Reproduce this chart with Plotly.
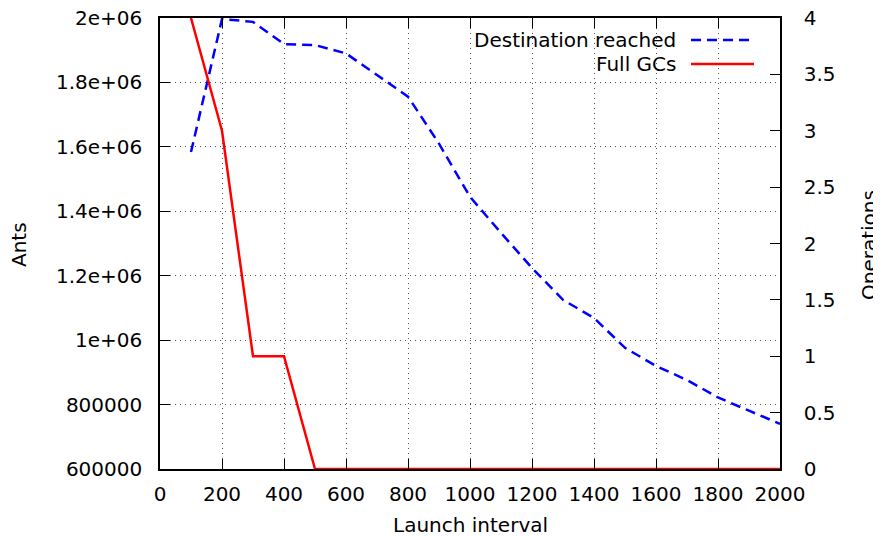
import plotly.graph_objects as go

launch_interval = [100, 200, 300, 400, 500, 600, 700, 800, 900, 1000,
                   1100, 1200, 1300, 1400, 1500, 1600, 1700, 1800, 1900, 2000]
destination_reached = [1584000, 1997000, 1988000, 1919000, 1916000, 1890000, 1823000,
                       1756000, 1610000, 1445000, 1333000, 1224000, 1125000, 1069000,
                       976000, 920000, 876000, 822000, 781000, 740000]
full_gcs = [4, 3, 1, 1, 0, 0, 0, 0, 0, 0, 0, 0, 0, 0, 0, 0, 0, 0, 0, 0]

left_tickvals = [600000, 800000, 1000000, 1200000, 1400000, 1600000, 1800000, 2000000]
left_ticktext = ["600000", "800000", "1e+06", "1.2e+06", "1.4e+06", "1.6e+06", "1.8e+06", "2e+06"]
right_tickvals = [0, 0.5, 1, 1.5, 2, 2.5, 3, 3.5, 4]
right_ticktext = ["0", "0.5", "1", "1.5", "2", "2.5", "3", "3.5", "4"]
x_tickvals = list(range(0, 2001, 200))

FONT = "DejaVu Sans"
FS = 20
OFF = 8  # default page body margin
W, H = 881 - OFF, 537 - OFF
# plot area in page pixels
PL, PR, PT, PB = 160, 780, 18, 469
pl, pr, pt, pb = PL - OFF, PR - OFF, PT - OFF, PB - OFF

fig = go.Figure()
fig.add_trace(go.Scatter(x=launch_interval, y=destination_reached, mode="lines",
                         name="Destination reached",
                         line=dict(color="#0000ff", width=2.5, dash="10px,6px"),
                         yaxis="y", showlegend=False))
fig.add_trace(go.Scatter(x=launch_interval, y=full_gcs, mode="lines",
                         name="Full GCs",
                         line=dict(color="#ff0000", width=2.5),
                         yaxis="y2", showlegend=False))

grid = dict(showgrid=True, gridcolor="#555555", gridwidth=1, griddash="1px,4px")
fig.update_layout(
    width=W, height=H,
    margin=dict(l=pl, r=W - pr, t=pt, b=H - pb),
    paper_bgcolor="white", plot_bgcolor="white",
    font=dict(family=FONT, size=FS, color="black"),
    xaxis=dict(range=[0, 2000], tickvals=x_tickvals, ticks="inside", ticklen=10,
               tickcolor="black", tickwidth=1, showline=True, linecolor="black",
               linewidth=1.5, mirror="ticks", zeroline=False, automargin=False,
               ticklabelstandoff=6, ticklabeloverflow="allow", **grid),
    yaxis=dict(range=[600000, 2000000], tickvals=left_tickvals, ticktext=left_ticktext,
               ticks="inside", ticklen=10, tickcolor="black", tickwidth=1, showline=True,
               linecolor="black", linewidth=1.5, zeroline=False, automargin=False,
               ticklabelstandoff=12, ticklabeloverflow="allow", **grid),
    yaxis2=dict(range=[0, 4], tickvals=right_tickvals, ticktext=right_ticktext,
                overlaying="y", side="right", ticks="inside", ticklen=10,
                tickcolor="black", tickwidth=1, showline=True, linecolor="black",
                linewidth=1.5, showgrid=False, zeroline=False, automargin=False,
                ticklabelstandoff=18, ticklabeloverflow="allow"),
)

def px(x):  # page pixel x -> paper fraction
    return (x - PL) / (PR - PL)
def py(y):  # page pixel y -> paper fraction
    return (PB - y) / (PB - PT)

# axis titles
fig.add_annotation(x=px(470), y=py(525), xref="paper", yref="paper", text="Launch interval",
                   showarrow=False, xanchor="center", yanchor="middle",
                   font=dict(family=FONT, size=FS, color="black"))
fig.add_annotation(x=px(19), y=py(245), xref="paper", yref="paper", text="Ants",
                   showarrow=False, xanchor="center", yanchor="middle", textangle=-90,
                   font=dict(family=FONT, size=FS, color="black"))
fig.add_annotation(x=px(869), y=py(245), xref="paper", yref="paper", text="Operations",
                   showarrow=False, xanchor="center", yanchor="middle", textangle=-90,
                   font=dict(family=FONT, size=FS, color="black"))

# gnuplot-style legend (text right-aligned, sample on the right)
legend_items = [("Destination reached", "#0000ff", "10px,6px"), ("Full GCs", "#ff0000", "solid")]
for i, (label, color, dash) in enumerate(legend_items):
    yc = 40 + i * 24
    fig.add_annotation(x=px(678), y=py(yc), xref="paper", yref="paper", text=label,
                       showarrow=False, xanchor="right", yanchor="middle",
                       font=dict(family=FONT, size=FS, color="black"))
    fig.add_shape(type="line", xref="paper", yref="paper",
                  x0=px(691), x1=px(754), y0=py(yc), y1=py(yc),
                  line=dict(color=color, width=2.5, dash=dash))

fig.write_html("out.html")
